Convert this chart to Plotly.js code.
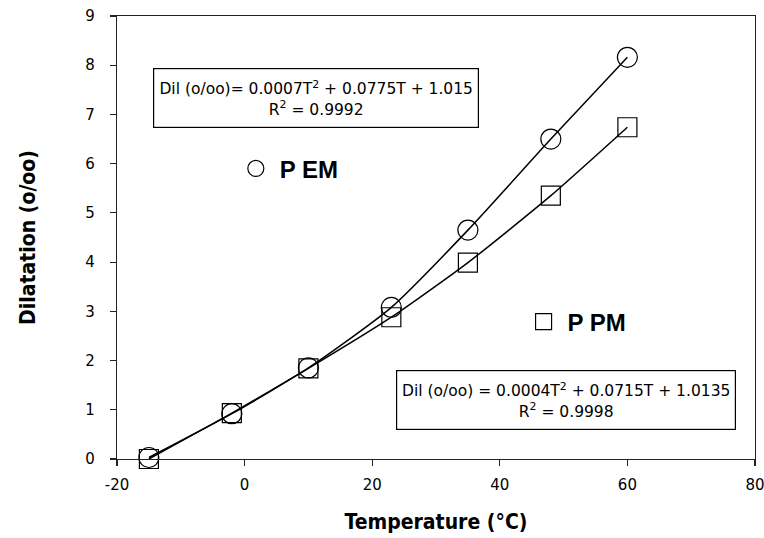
<!DOCTYPE html>
<html>
<head>
<meta charset="utf-8">
<script src="https://cdn.plot.ly/plotly-3.0.1.min.js"></script>
<style>html,body{margin:0;padding:0;background:#fff;}#chart{width:764px;height:538px;}</style>
</head>
<body>
<div id="chart"></div>
<script>
// Data
const temperature = [-15, -2, 10, 23, 35, 48, 60];
const dilPEM = [0.03, 0.92, 1.85, 3.08, 4.65, 6.5, 8.16];
const dilPPM = [0.0, 0.93, 1.84, 2.88, 3.99, 5.35, 6.74];
const seriesNames = ['P EM', 'P PM'];
const xTickVals = [-20, 0, 20, 40, 60, 80];
const xTickText = ['-20', '0', '20', '40', '60', '80'];
const yTickVals = [0, 1, 2, 3, 4, 5, 6, 7, 8, 9];
const eqPEM = 'Dil (o/oo)= 0.0007T<sup>2</sup> + 0.0775T + 1.015<br>R<sup>2</sup> = 0.9992';
const eqPPM = 'Dil (o/oo) = 0.0004T<sup>2</sup> + 0.0715T + 1.0135<br>R<sup>2</sup> = 0.9998';

const black = '#000000';
const boxFont = {family: 'DejaVu Sans, Arial, sans-serif', size: 15.5, color: black};
const tickFont = {family: 'DejaVu Sans, Arial, sans-serif', size: 15, color: black};
const titleFont = {family: 'Liberation Sans Narrow, Arial Narrow, DejaVu Sans Condensed, Arial, sans-serif', size: 21, color: black, weight: 'bold'};
const legendFont = {family: 'Liberation Sans, Arial, sans-serif', size: 24, color: black, weight: 'bold'};

const traces = [
  {x: temperature, y: dilPEM, mode: 'lines', type: 'scatter', line: {color: black, width: 1.5, shape: 'spline', smoothing: 0.6}, showlegend: false, hoverinfo: 'skip', cliponaxis: false},
  {x: temperature, y: dilPPM, mode: 'lines', type: 'scatter', line: {color: black, width: 1.5, shape: 'spline', smoothing: 0.6}, showlegend: false, hoverinfo: 'skip', cliponaxis: false},
  {x: temperature, y: dilPEM, name: seriesNames[0], mode: 'markers', type: 'scatter', legend: 'legend',
   marker: {symbol: 'circle-open', size: 20, color: black, line: {color: black, width: 1.2}}, cliponaxis: false},
  {x: temperature, y: dilPPM, name: seriesNames[1], mode: 'markers', type: 'scatter', legend: 'legend2',
   marker: {symbol: 'square-open', size: 19, color: black, line: {color: black, width: 1.2}}, cliponaxis: false}
];

const axisCommon = {
  showgrid: false, zeroline: false, showline: true, mirror: true,
  linecolor: '#222', linewidth: 1.2, ticks: 'outside', ticklen: 6, tickwidth: 1.2, tickcolor: '#222',
  tickfont: tickFont, ticklabeloverflow: 'allow'
};

const layout = {
  width: 764, height: 538,
  margin: {l: 117, r: 9, t: 16, b: 79},
  paper_bgcolor: '#ffffff', plot_bgcolor: '#ffffff',
  xaxis: Object.assign({}, axisCommon, {
    range: [-20, 80], tickvals: xTickVals, ticktext: xTickText, ticklabelstandoff: 6,
    title: {text: 'Temperature (°C)', font: titleFont, standoff: 21}
  }),
  yaxis: Object.assign({}, axisCommon, {
    range: [0, 9], tickvals: yTickVals, ticklabelstandoff: 12,
    title: {text: 'Dilatation (o/oo)', font: titleFont, standoff: 44}
  }),
  legend: {x: 0.180, y: 0.655, xanchor: 'left', yanchor: 'middle', bgcolor: 'rgba(0,0,0,0)', borderwidth: 0, font: legendFont, itemwidth: 38},
  legend2: {x: 0.631, y: 0.309, xanchor: 'left', yanchor: 'middle', bgcolor: 'rgba(0,0,0,0)', borderwidth: 0, font: legendFont, itemwidth: 38},
  showlegend: true,
  annotations: [
    {text: eqPEM, xref: 'paper', yref: 'paper', x: 0.312, y: 0.815, xanchor: 'center', yanchor: 'middle',
     showarrow: false, font: boxFont, bordercolor: black, borderwidth: 1.2, borderpad: 4, bgcolor: '#ffffff', align: 'center',
     width: 316, height: 50},
    {text: eqPPM, xref: 'paper', yref: 'paper', x: 0.704, y: 0.133, xanchor: 'center', yanchor: 'middle',
     showarrow: false, font: boxFont, bordercolor: black, borderwidth: 1.2, borderpad: 4, bgcolor: '#ffffff', align: 'center',
     width: 330, height: 50}
  ]
};

Plotly.newPlot('chart', traces, layout, {staticPlot: true, displayModeBar: false});
</script>
</body>
</html>
